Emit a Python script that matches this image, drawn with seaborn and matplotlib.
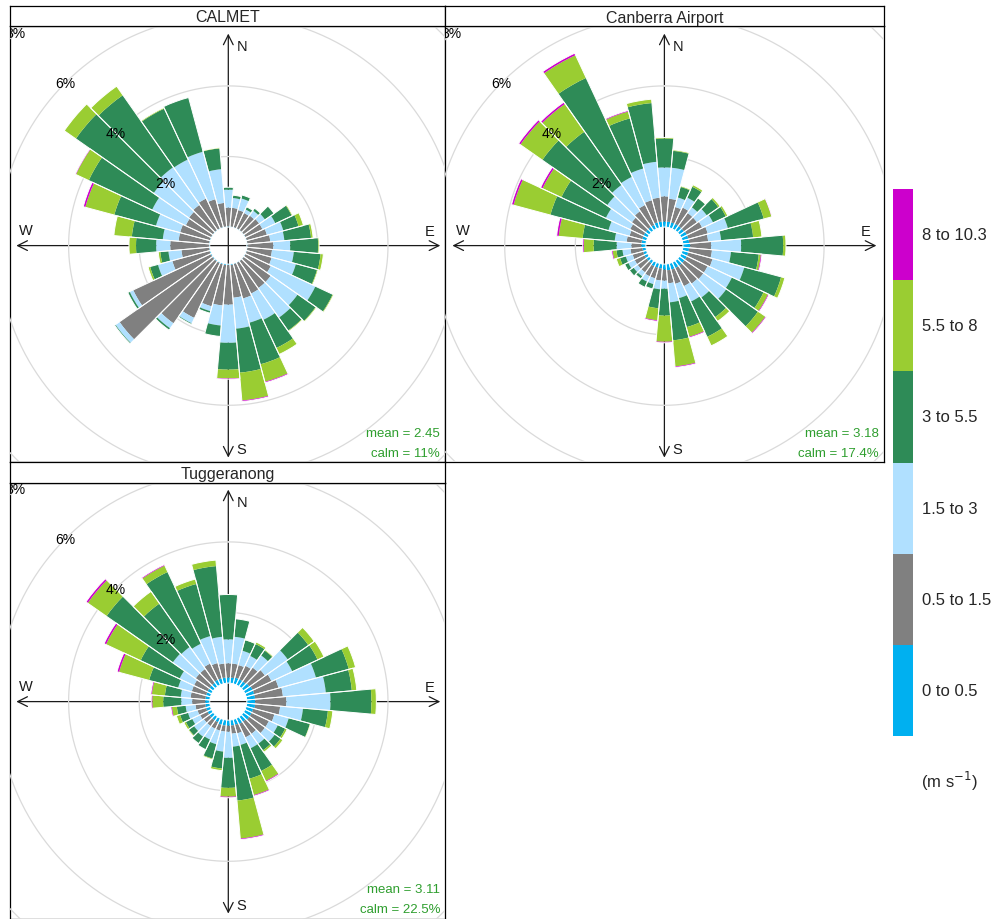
import numpy as np
import matplotlib
matplotlib.use("Agg")
import matplotlib.pyplot as plt
import seaborn as sns

sns.set_style("white")
plt.rcParams["font.family"] = ["Liberation Sans", "DejaVu Sans"]

# ---------------- data (percent of hours, per 10-degree sector) ----------------
directions = list(range(0, 360, 10))
speed_labels = ["0 to 0.5", "0.5 to 1.5", "1.5 to 3", "3 to 5.5", "5.5 to 8", "8 to 10.3"]
speed_colors = sns.color_palette(["#00B0F0", "#808080", "#B0E0FF", "#2E8B57", "#9ACD32", "#CC00CC"])
grid_levels = [2, 4, 6, 8]
site_names = ["CALMET", "Canberra Airport", "Tuggeranong"]
site_mean = ["2.45", "3.18", "3.11"]
site_calm = ["11%", "17.4%", "22.5%"]

calmet_0_05 = [0.02, 0.02, 0.02, 0.02, 0.02, 0.02, 0.02, 0.02, 0.02, 0.02, 0.02, 0.02,
               0.02, 0.02, 0.02, 0.02, 0.02, 0.03, 0.03, 0.03, 0.03, 0.03, 0.03, 0.03,
               0.03, 0.03, 0.02, 0.02, 0.02, 0.02, 0.02, 0.02, 0.02, 0.02, 0.02, 0.02]
calmet_05_15 = [0.53, 0.53, 0.50, 0.48, 0.50, 0.53, 0.53, 0.59, 0.65, 0.73, 0.70, 0.73,
                0.79, 0.93, 0.93, 0.96, 1.01, 0.93, 1.12, 1.15, 1.23, 1.71, 2.14, 3.21,
                2.42, 1.09, 0.79, 1.10, 0.87, 0.87, 0.79, 0.82, 0.87, 0.93, 0.82, 0.67]
calmet_15_3 = [0.51, 0.28, 0.34, 0.11, 0.17, 0.20, 0.40, 0.48, 0.40, 0.48, 0.62, 0.71,
               1.39, 0.93, 1.02, 0.82, 0.71, 0.88, 1.08, 0.57, 0.14, 0.17, 0.17, 0.14,
               0.11, 0.42, 0.37, 0.40, 0.45, 0.71, 1.05, 1.22, 1.30, 1.22, 1.39, 0.96]
calmet_3_55 = [0.07, 0.08, 0.10, 0.08, 0.08, 0.31, 0.51, 0.45, 0.76, 0.79, 0.76, 0.62,
               0.54, 0.62, 0.45, 0.88, 1.22, 1.25, 0.76, 0.31, 0.06, 0.03, 0.06, 0.03,
               0.06, 0.23, 0.23, 0.57, 0.88, 1.22, 1.98, 2.69, 2.49, 1.59, 1.59, 0.59]
calmet_55_8 = [0.00, 0.00, 0.00, 0.00, 0.00, 0.00, 0.03, 0.14, 0.06, 0.03, 0.08, 0.03,
               0.03, 0.03, 0.03, 0.20, 0.51, 0.79, 0.25, 0.00, 0.00, 0.00, 0.00, 0.00,
               0.00, 0.06, 0.06, 0.20, 0.51, 0.85, 0.40, 0.40, 0.31, 0.03, 0.00, 0.02]
calmet_8_103 = [0.00, 0.00, 0.00, 0.00, 0.00, 0.00, 0.00, 0.00, 0.00, 0.00, 0.00, 0.00,
                0.00, 0.00, 0.00, 0.00, 0.03, 0.03, 0.02, 0.00, 0.00, 0.00, 0.00, 0.00,
                0.00, 0.00, 0.00, 0.00, 0.00, 0.06, 0.02, 0.00, 0.00, 0.00, 0.00, 0.00]

canberra_0_05 = [0.16, 0.16, 0.16, 0.16, 0.16, 0.16, 0.18, 0.18, 0.18, 0.21, 0.18, 0.18,
                 0.18, 0.18, 0.18, 0.18, 0.18, 0.18, 0.16, 0.13, 0.13, 0.13, 0.10, 0.10,
                 0.10, 0.10, 0.10, 0.13, 0.13, 0.13, 0.13, 0.13, 0.13, 0.13, 0.16, 0.16]
canberra_05_15 = [0.71, 0.65, 0.45, 0.51, 0.45, 0.45, 0.48, 0.57, 0.54, 0.59, 0.65, 0.71,
                  0.65, 0.65, 0.62, 0.57, 0.42, 0.37, 0.31, 0.34, 0.31, 0.31, 0.31, 0.31,
                  0.31, 0.31, 0.34, 0.28, 0.42, 0.37, 0.42, 0.48, 0.54, 0.62, 0.65, 0.68]
canberra_15_3 = [0.82, 0.88, 0.28, 0.31, 0.20, 0.34, 0.34, 0.59, 0.37, 0.85, 0.54, 0.93,
                 0.76, 0.79, 0.48, 0.48, 0.42, 0.54, 0.23, 0.25, 0.17, 0.17, 0.14, 0.14,
                 0.20, 0.20, 0.23, 0.42, 0.34, 0.62, 0.76, 0.85, 0.91, 0.88, 0.93, 1.02]
canberra_3_55 = [0.82, 0.48, 0.31, 0.34, 0.31, 0.40, 0.40, 1.05, 0.91, 1.19, 0.79, 1.08,
                 0.99, 1.10, 0.68, 1.10, 0.85, 1.08, 0.76, 0.54, 0.14, 0.17, 0.08, 0.14,
                 0.11, 0.17, 0.17, 0.65, 0.91, 1.70, 1.39, 2.24, 1.84, 3.09, 1.47, 1.67]
canberra_55_8 = [0.03, 0.03, 0.03, 0.06, 0.01, 0.06, 0.06, 0.23, 0.25, 0.08, 0.06, 0.11,
                 0.14, 0.25, 0.14, 0.28, 0.28, 0.74, 0.74, 0.34, 0.00, 0.00, 0.00, 0.00,
                 0.00, 0.11, 0.11, 0.28, 0.68, 1.08, 0.59, 0.76, 0.96, 0.71, 0.20, 0.11]
canberra_8_103 = [0.00, 0.00, 0.00, 0.00, 0.00, 0.00, 0.00, 0.01, 0.00, 0.00, 0.03, 0.00,
                  0.03, 0.03, 0.00, 0.00, 0.03, 0.03, 0.03, 0.03, 0.00, 0.00, 0.00, 0.00,
                  0.00, 0.00, 0.03, 0.03, 0.06, 0.06, 0.06, 0.06, 0.06, 0.06, 0.03, 0.00]

tugg_0_05 = [0.16, 0.16, 0.18, 0.18, 0.18, 0.21, 0.24, 0.24, 0.24, 0.24, 0.24, 0.21,
             0.21, 0.21, 0.18, 0.18, 0.16, 0.16, 0.16, 0.16, 0.16, 0.13, 0.13, 0.13,
             0.13, 0.13, 0.13, 0.13, 0.13, 0.13, 0.13, 0.13, 0.13, 0.16, 0.16, 0.16]
tugg_05_15 = [0.40, 0.40, 0.37, 0.42, 0.48, 0.54, 0.59, 0.71, 0.79, 0.88, 0.71, 0.62,
              0.54, 0.54, 0.42, 0.42, 0.25, 0.23, 0.17, 0.17, 0.17, 0.20, 0.20, 0.20,
              0.23, 0.25, 0.28, 0.37, 0.42, 0.42, 0.42, 0.48, 0.48, 0.51, 0.45, 0.40]
tugg_15_3 = [0.68, 0.76, 0.42, 0.31, 0.42, 0.79, 0.65, 1.10, 1.22, 1.25, 0.65, 0.42,
             0.28, 0.34, 0.34, 0.34, 0.34, 0.37, 0.74, 0.57, 0.40, 0.34, 0.37, 0.34,
             0.25, 0.28, 0.28, 0.31, 0.28, 0.40, 0.45, 0.79, 0.76, 0.62, 0.79, 0.76]
tugg_3_55 = [1.27, 0.51, 0.31, 0.37, 0.17, 0.71, 0.79, 0.96, 0.74, 1.16, 0.71, 0.62,
             0.23, 0.20, 0.23, 0.71, 0.99, 1.53, 0.85, 0.48, 0.42, 0.31, 0.23, 0.17,
             0.20, 0.23, 0.25, 0.51, 0.45, 0.85, 1.22, 2.29, 1.50, 2.24, 1.53, 2.01]
tugg_55_8 = [0.00, 0.00, 0.01, 0.06, 0.03, 0.20, 0.20, 0.20, 0.14, 0.14, 0.14, 0.02,
             0.06, 0.08, 0.06, 0.31, 0.48, 1.08, 0.25, 0.06, 0.03, 0.00, 0.00, 0.03,
             0.06, 0.11, 0.14, 0.31, 0.37, 0.88, 1.08, 0.65, 0.42, 0.20, 0.14, 0.17]
tugg_8_103 = [0.00, 0.00, 0.00, 0.00, 0.00, 0.00, 0.00, 0.00, 0.00, 0.00, 0.00, 0.00,
              0.00, 0.00, 0.00, 0.03, 0.03, 0.03, 0.03, 0.00, 0.00, 0.00, 0.00, 0.00,
              0.00, 0.00, 0.03, 0.03, 0.03, 0.06, 0.06, 0.06, 0.00, 0.03, 0.00, 0.00]

site_series = [
    [calmet_0_05, calmet_05_15, calmet_15_3, calmet_3_55, calmet_55_8, calmet_8_103],
    [canberra_0_05, canberra_05_15, canberra_15_3, canberra_3_55, canberra_55_8, canberra_8_103],
    [tugg_0_05, tugg_05_15, tugg_15_3, tugg_3_55, tugg_55_8, tugg_8_103],
]

# ---------------- layout (pixels, top-left origin) ----------------
W, H = 994, 920
fig = plt.figure(figsize=(W / 100, H / 100), dpi=100)
fig.patch.set_facecolor("white")


def frac(x0, y0, x1, y1):
    return [x0 / W, 1 - y1 / H, (x1 - x0) / W, (y1 - y0) / H]


panel_boxes = [(10, 27, 445, 463), (445, 27, 884, 463), (10, 484, 445, 919.5)]
strip_boxes = [(10, 7, 445, 27), (445, 7, 884, 27), (10, 463, 445, 484)]
centers = [(228.3, 246.6), (664.4, 246.6), (228.3, 702.6)]

PX_PER_PCT = 35.3
RORIGIN = -0.524
RMAX = 9.0
R_PX = PX_PER_PCT * (RMAX - RORIGIN)
ARM = 212
text_green = "#2E9E2E"

for k in range(3):
    x0, y0, x1, y1 = panel_boxes[k]
    cx, cy = centers[k]

    # frame axes (pixel units relative to the rose centre, y up)
    fax = fig.add_axes(frac(x0, y0, x1, y1), zorder=0)
    fax.set_xlim(x0 - cx, x1 - cx)
    fax.set_ylim(cy - y1, cy - y0)
    fax.set_xticks([])
    fax.set_yticks([])
    for s in fax.spines.values():
        s.set_visible(True)
        s.set_color("black")
        s.set_linewidth(0.9)

    arrow_kw = dict(arrowstyle="<->,head_length=0.7,head_width=0.35", color="#1a1a1a",
                    lw=0.9, shrinkA=0, shrinkB=0, mutation_scale=10)
    fax.annotate("", xy=(-ARM, 0), xytext=(ARM, 0), arrowprops=arrow_kw)
    fax.annotate("", xy=(0, -ARM), xytext=(0, ARM), arrowprops=arrow_kw)
    fax.text(8, 200, "N", ha="left", va="center", fontsize=10.5, color="#1a1a1a")
    fax.text(8, -203, "S", ha="left", va="center", fontsize=10.5, color="#1a1a1a")
    fax.text(-202, 16, "W", ha="center", va="center", fontsize=10.5, color="#1a1a1a")
    fax.text(201, 15, "E", ha="center", va="center", fontsize=10.5, color="#1a1a1a")
    fax.text(x1 - cx - 5, cy - y1 + 29, f"mean = {site_mean[k]}", ha="right", va="center",
             fontsize=9.5, color=text_green)
    fax.text(x1 - cx - 5, cy - y1 + 9, f"calm = {site_calm[k]}", ha="right", va="center",
             fontsize=9.5, color=text_green)

    # strip with site name
    sx0, sy0, sx1, sy1 = strip_boxes[k]
    sax = fig.add_axes(frac(sx0, sy0, sx1, sy1), zorder=3)
    sax.set_xticks([])
    sax.set_yticks([])
    sax.set_facecolor("white")
    for s in sax.spines.values():
        s.set_visible(True)
        s.set_color("black")
        s.set_linewidth(0.9)
    sax.text(0.5, 0.45, site_names[k], ha="center", va="center", fontsize=11.5,
             transform=sax.transAxes)

    # polar axes for the rose, clipped to the panel frame
    pax = fig.add_axes(frac(cx - R_PX, cy - R_PX, cx + R_PX, cy + R_PX),
                       projection="polar", zorder=2)
    pax.set_theta_zero_location("N")
    pax.set_theta_direction(-1)
    pax.set_ylim(0, RMAX)
    pax.set_rorigin(RORIGIN)
    pax.set_axis_off()
    pax.patch.set_visible(False)

    tt = np.linspace(0, 2 * np.pi, 721)
    for lev in grid_levels:
        ln, = pax.plot(tt, np.full_like(tt, lev), color="#DADADA", lw=0.9, zorder=1)
        ln.set_clip_path(fax.patch)

    theta = np.deg2rad(directions)
    width = np.deg2rad(10)
    bottom = np.zeros(len(directions))
    for vals, col in zip(site_series[k], speed_colors):
        vals = np.asarray(vals)
        bars = pax.bar(theta, vals, width=width, bottom=bottom, color=col,
                       linewidth=0, align="center", zorder=3)
        for b in bars:
            b.set_clip_path(fax.patch)
        bottom = bottom + vals
    outline = pax.bar(theta, bottom, width=width, bottom=0, facecolor="none",
                      edgecolor="white", linewidth=0.7, align="center", zorder=4)
    for b in outline:
        b.set_clip_path(fax.patch)

    for lev in grid_levels:
        t = pax.text(np.deg2rad(315), lev, f"{lev}%", ha="center", va="center",
                     fontsize=10, color="black", zorder=6, clip_on=True)
        t.set_clip_path(fax.patch)

# ---------------- legend ----------------
lax = fig.add_axes(frac(893, 190, 913, 737), zorder=1)
n = len(speed_labels)
for i in range(n):
    lax.axhspan(i, i + 1, color=speed_colors[i], lw=0)
lax.set_xlim(0, 1)
lax.set_ylim(0, n)
lax.axis("off")
for i in range(n):
    lax.text(1.45, i + 0.5, speed_labels[i], ha="left", va="center", fontsize=12)
lax.text(1.4, -0.49, "(m s$^{-1}$)", ha="left", va="center", fontsize=12)

fig.savefig("out.png", dpi=100, facecolor="white")
